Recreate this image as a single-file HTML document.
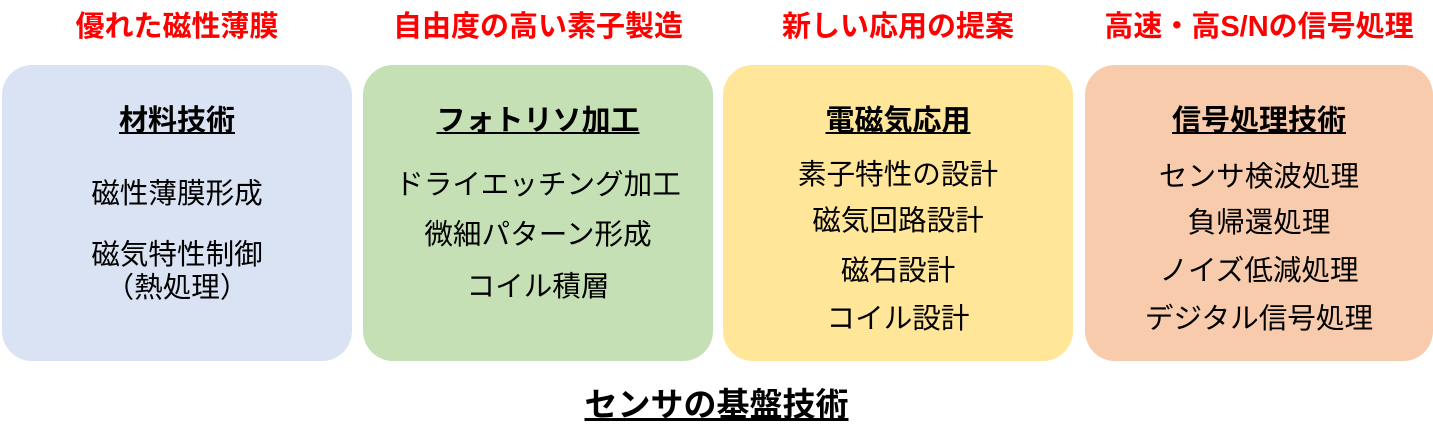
<!DOCTYPE html>
<html><head><meta charset="utf-8"><style>
body{margin:0;width:1433px;height:445px;background:#fff;position:relative;overflow:hidden;font-family:"Liberation Sans","Noto Sans CJK JP",sans-serif;}
.t{position:absolute;top:10px;font-size:29px;line-height:34px;font-weight:bold;color:#ff0000;text-align:center;}
.b{position:absolute;top:65px;height:296px;border-radius:30px;}
.h{position:absolute;font-size:29px;line-height:34px;font-weight:bold;text-decoration:underline;text-align:center;color:#000;}
.l{position:absolute;font-size:28.6px;text-align:center;color:#000;line-height:34px;}
</style></head><body>
<div class="t" style="left:2px;width:350px">優れた磁性薄膜</div>
<div class="t" style="left:363px;width:350px">自由度の高い素子製造</div>
<div class="t" style="left:723px;width:350px">新しい応用の提案</div>
<div class="t" style="left:1085px;width:348px">高速・高S/Nの信号処理</div>

<div class="b" style="left:2px;width:350px;background:#dae3f3"></div>
<div class="b" style="left:363px;width:350px;background:#c5e0b4"></div>
<div class="b" style="left:723px;width:350px;background:#ffe699"></div>
<div class="b" style="left:1085px;width:348px;background:#f8cbad"></div>

<div class="h" style="left:2px;width:350px;top:104px">材料技術</div>
<div class="l" style="left:2px;width:350px;top:177px">磁性薄膜形成</div>
<div class="l" style="left:2px;width:350px;top:239px;line-height:33px">磁気特性制御<br>（熱処理）</div>

<div class="h" style="left:363px;width:350px;top:104px">フォトリソ加工</div>
<div class="l" style="left:363px;width:350px;top:168px">ドライエッチング加工</div>
<div class="l" style="left:363px;width:350px;top:218px">微細パターン形成</div>
<div class="l" style="left:363px;width:350px;top:270px">コイル積層</div>

<div class="h" style="left:723px;width:350px;top:104px">電磁気応用</div>
<div class="l" style="left:723px;width:350px;top:158px">素子特性の設計</div>
<div class="l" style="left:723px;width:350px;top:204px">磁気回路設計</div>
<div class="l" style="left:723px;width:350px;top:254px">磁石設計</div>
<div class="l" style="left:723px;width:350px;top:302px">コイル設計</div>

<div class="h" style="left:1085px;width:348px;top:104px">信号処理技術</div>
<div class="l" style="left:1085px;width:348px;top:160px">センサ検波処理</div>
<div class="l" style="left:1085px;width:348px;top:206px">負帰還処理</div>
<div class="l" style="left:1085px;width:348px;top:254px">ノイズ低減処理</div>
<div class="l" style="left:1085px;width:348px;top:302px">デジタル信号処理</div>

<div class="h" style="left:0;width:1433px;top:386px;font-size:33px;line-height:38px">センサの基盤技術</div>
</body></html>
